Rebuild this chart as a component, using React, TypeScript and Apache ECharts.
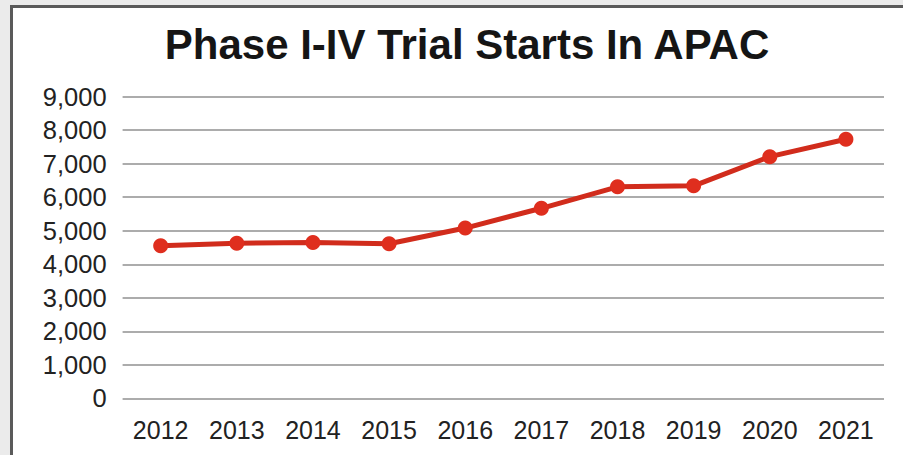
import React, { useEffect, useRef } from "react";
import * as echarts from "echarts";

const titleText = "Phase I-IV Trial Starts In APAC";
const years = ["2012", "2013", "2014", "2015", "2016", "2017", "2018", "2019", "2020", "2021"];
const trialStarts = [4550, 4630, 4650, 4610, 5080, 5670, 6310, 6340, 7210, 7730];

export default function App() {
  const ref = useRef<HTMLDivElement>(null);
  useEffect(() => {
    if (!ref.current) return;
    const chart = echarts.init(ref.current, undefined, { renderer: "svg" });
    chart.setOption({
      animation: false,
      title: {
        text: titleText,
        left: 462,
        textAlign: "center",
        top: 18,
        textStyle: {
          fontFamily: "Liberation Sans, Arial, sans-serif",
          fontWeight: "bold",
          fontSize: 42,
          color: "#151515",
        },
      },
      grid: { left: 122.6, right: 19, top: 96.7, bottom: 56.7, containLabel: false },
      xAxis: {
        type: "category",
        data: years,
        boundaryGap: true,
        axisLine: { show: false },
        axisTick: { show: false },
        axisLabel: {
          margin: 19,
          fontFamily: "Liberation Sans, Arial, sans-serif",
          fontSize: 25,
          color: "#222222",
        },
      },
      yAxis: {
        type: "value",
        min: 0,
        max: 9000,
        interval: 1000,
        axisLine: { show: false },
        axisTick: { show: false },
        splitLine: { lineStyle: { color: "#acacac", width: 2 } },
        axisLabel: {
          margin: 16,
          fontFamily: "Liberation Sans, Arial, sans-serif",
          fontSize: 25.5,
          color: "#222222",
          formatter: (v: number) => v.toLocaleString("en-US"),
        },
      },
      series: [
        {
          type: "line",
          data: trialStarts,
          symbol: "circle",
          symbolSize: 15,
          lineStyle: { color: "#d12c1c", width: 5 },
          itemStyle: { color: "#df2e1e" },
        },
      ],
    });
    return () => chart.dispose();
  }, []);
  return (
    <div style={{ position: "absolute", left: 0, top: 0, width: 903, height: 455, background: "#ebebeb", overflow: "hidden" }}>
      <div
        style={{
          position: "absolute",
          left: 10,
          top: 5,
          width: 910,
          height: 470,
          background: "#ffffff",
          borderLeft: "3px solid #5a5a5a",
          borderTop: "3px solid #5a5a5a",
        }}
      />
      <div ref={ref} style={{ position: "absolute", left: 0, top: 0, width: 903, height: 455 }} />
    </div>
  );
}
